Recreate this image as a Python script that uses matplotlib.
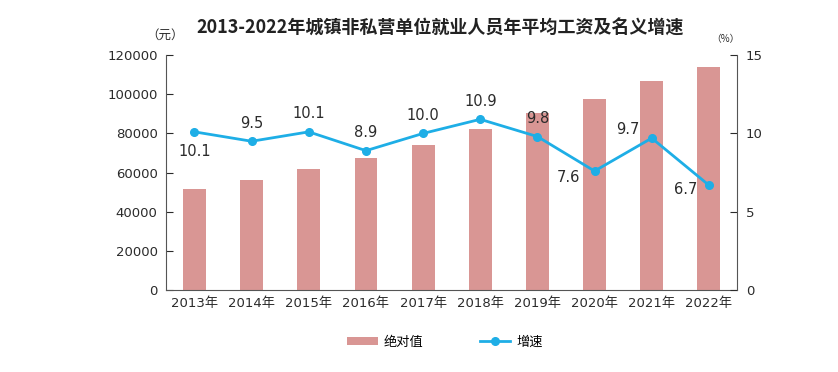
import matplotlib
matplotlib.use('Agg')
import matplotlib.pyplot as plt
import numpy as np

plt.rcParams['font.family'] = ['DejaVu Sans', 'Noto Sans CJK SC']

# data
years = ['2013年', '2014年', '2015年', '2016年', '2017年', '2018年', '2019年', '2020年', '2021年', '2022年']
wages = [51483, 56360, 62029, 67569, 74318, 82413, 90501, 97379, 106837, 114029]
growth = [10.1, 9.5, 10.1, 8.9, 10.0, 10.9, 9.8, 7.6, 9.7, 6.7]
# label offsets (points) for the growth labels
label_dx = [0, 0, 0, 0, 0, 0, 0, -19, -17, -17]
label_dy = [-14, 13, 13, 13, 13, 13, 13, -5, 6, -3]

bar_color = '#D99694'
line_color = '#1EAEE6'
text_color = '#2b2b2b'
cjk = ['Noto Sans CJK SC', 'DejaVu Sans']

fig = plt.figure(figsize=(8.38, 3.72), dpi=100)
ax = fig.add_axes([0.198, 0.22, 0.682, 0.632])
x = np.arange(len(years))

ax.bar(x, wages, width=0.4, color=bar_color, label='绝对值', zorder=2)
ax.set_ylim(0, 120000)
ax.set_xlim(-0.5, len(years) - 0.5)
ax.set_yticks(np.arange(0, 120001, 20000))
ax.set_xticks(x)
ax.set_xticklabels(years)
ax.tick_params(axis='y', direction='in', length=5, labelsize=9.5, colors=text_color, pad=6)
ax.tick_params(axis='x', length=0, labelsize=9.5, colors=text_color, pad=5)
ax.spines['top'].set_visible(False)
ax.spines['right'].set_visible(False)
for s in ['left', 'bottom']:
    ax.spines[s].set_color('#555555')

ax2 = ax.twinx()
ax2.plot(x, growth, color=line_color, marker='o', markersize=5.5, linewidth=2, label='增速', zorder=3)
ax2.set_ylim(0, 15)
ax2.set_yticks([0, 5, 10, 15])
ax2.tick_params(axis='y', direction='in', length=5, labelsize=9.5, colors=text_color, pad=6)
ax2.spines['top'].set_visible(False)
ax2.spines['left'].set_visible(False)
ax2.spines['bottom'].set_visible(False)
ax2.spines['right'].set_color('#555555')

for i, g in enumerate(growth):
    ax2.annotate(f'{g:.1f}', (i, g), xytext=(label_dx[i], label_dy[i]), textcoords='offset points',
                 ha='center', va='center', fontsize=10.5, color=text_color)

fig.text(0.525, 0.925, '2013-2022年城镇非私营单位就业人员年平均工资及名义增速',
         ha='center', va='center', fontsize=13, fontweight='bold', color='#222222',
         family=cjk)
fig.text(0.197, 0.905, '（元）', ha='center', va='center', fontsize=9,
         color=text_color, family=cjk)
fig.text(0.866, 0.895, '（%）', ha='center', va='center', fontsize=7,
         color=text_color, family=cjk)

h1, l1 = ax.get_legend_handles_labels()
h2, l2 = ax2.get_legend_handles_labels()
fig.legend(h1 + h2, l1 + l2, loc='center', bbox_to_anchor=(0.531, 0.08), ncol=2,
           frameon=False, handlelength=2.3, handleheight=0.6, handletextpad=0.45,
           columnspacing=4.3, prop={'family': cjk, 'size': 9.5})

fig.savefig('out.png', dpi=100)
